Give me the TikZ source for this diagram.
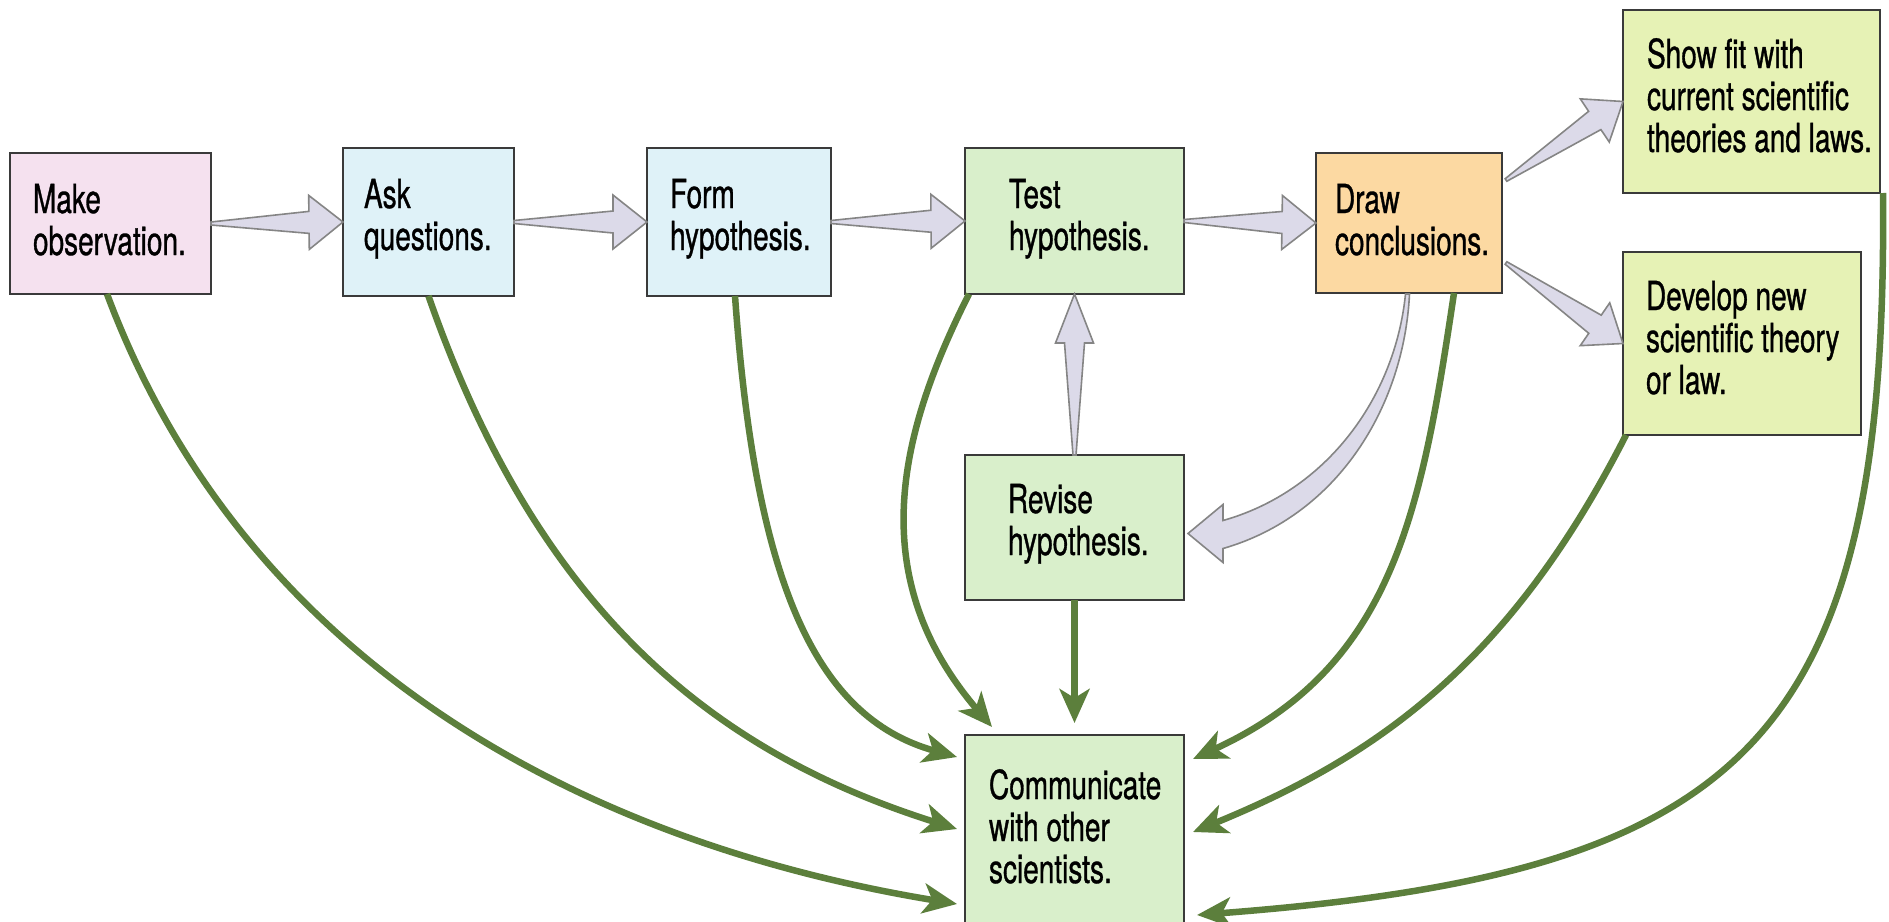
\documentclass[tikz,border=0pt]{standalone}
\usepackage{fontspec}
\setmainfont{TeX Gyre Heros}[FakeStretch=0.70,FakeBold=0.8]
\usetikzlibrary{arrows.meta,calc}
\definecolor{pinkc}{HTML}{F5E1EF}
\definecolor{cyanc}{HTML}{DFF2F8}
\definecolor{greenc}{HTML}{D9EFCB}
\definecolor{peachc}{HTML}{FCD9A2}
\definecolor{yellowc}{HTML}{E6F2B5}
\definecolor{boxline}{HTML}{3A3A3A}
\definecolor{arrowgreen}{HTML}{5C7F3C}
\definecolor{lav}{HTML}{DCDAE9}
\definecolor{lavline}{HTML}{858585}
\newcommand\twolines[2]{\vtop{\hbox{#1}\hbox{#2}}}
\newcommand\threelines[3]{\vtop{\hbox{#1}\hbox{#2}\hbox{#3}}}
\newcommand\harrow[5]{%
  \coordinate (hab) at ($(#2)!#3!(#1)$);
  \draw[hollow] ($(#1)!1.5pt!90:(#2)$) -- ($(hab)!#5!90:(#2)$) -- ($(hab)!#4!90:(#2)$) -- (#2) -- ($(hab)!#4!-90:(#2)$) -- ($(hab)!#5!-90:(#2)$) -- ($(#1)!1.5pt!-90:(#2)$) -- cycle;}
\tikzset{
  box/.style={draw=boxline, line width=2pt, rectangle, inner sep=0pt, outer sep=0pt},
  txt/.style={anchor=base west, inner sep=0pt, outer sep=0pt, font=\fontsize{40}{42}\selectfont},
  comm/.style={draw=arrowgreen, line width=6.5pt, -{Stealth[length=34pt,width=30pt,inset=9pt]}},
  hollow/.style={fill=lav, draw=lavline, line width=1.6pt, line join=miter}
}
\begin{document}
\begin{tikzpicture}[x=1pt,y=-1pt]
\fill[white] (0,0) rectangle (1889,921);
\useasboundingbox (0,0) rectangle (1889,921);

% boxes
\node[box, fill=pinkc, minimum width=201pt, minimum height=141pt] (mo) at (110.5,223.5) {};
\node[box, fill=cyanc, minimum width=171pt, minimum height=148pt] (aq) at (428.5,222) {};
\node[box, fill=cyanc, minimum width=184pt, minimum height=148pt] (fh) at (739,222) {};
\node[box, fill=greenc, minimum width=219pt, minimum height=146pt] (th) at (1074.5,221) {};
\node[box, fill=peachc, minimum width=186pt, minimum height=140pt] (dc) at (1409,223) {};
\node[box, fill=yellowc, minimum width=257pt, minimum height=183pt] (sf) at (1751.5,101.5) {};
\node[box, fill=yellowc, minimum width=238pt, minimum height=183pt] (dn) at (1742,343.5) {};
\node[box, fill=greenc, minimum width=219pt, minimum height=145pt] (rh) at (1074.5,527.5) {};
\node[box, fill=greenc, minimum width=219pt, minimum height=205pt] (cm) at (1074.5,837.5) {};

% texts
\node[txt] (tmo) at ($(mo.north west)+(23,60)$) {\twolines{Make}{observation.}};
\node[txt] (taq) at ($(aq.north west)+(21,60)$) {\twolines{Ask}{questions.}};
\node[txt] (tfh) at ($(fh.north west)+(23,60)$) {\twolines{Form}{hypothesis.}};
\node[txt] (tth) at ($(th.north west)+(44,60)$) {\twolines{Test}{hypothesis.}};
\node[txt] (tdc) at ($(dc.north west)+(19,60)$) {\twolines{Draw}{conclusions.}};
\node[txt] (tsf) at ($(sf.north west)+(24,58)$) {\threelines{Show fit with}{current scientific}{theories and laws.}};
\node[txt] (tdn) at ($(dn.north west)+(23,58)$) {\threelines{Develop new}{scientific theory}{or law.}};
\node[txt] (trh) at ($(rh.north west)+(43,58)$) {\twolines{Revise}{hypothesis.}};
\node[txt] (tcm) at ($(cm.north west)+(24,64)$) {\threelines{Communicate}{with other}{scientists.}};

% hollow arrows
\harrow{mo.east}{aq.west}{34pt}{27pt}{11pt}
\harrow{aq.east}{fh.west}{34pt}{27pt}{11pt}
\harrow{fh.east}{th.west}{34pt}{27pt}{11pt}
\harrow{th.east}{dc.west}{34pt}{27pt}{11pt}
\coordinate (d1) at ($(dc.north east)+(4,27)$);
\coordinate (d2) at ($(dc.south east)+(4,-30)$);
\harrow{d1}{sf.west}{34pt}{26pt}{11pt}
\harrow{d2}{dn.west}{34pt}{26pt}{11pt}
\harrow{rh.north}{th.south}{49pt}{19pt}{10pt}

% curved hollow arrow: Draw conclusions -> Revise hypothesis
\coordinate (cs) at ($(dc.south)+(-1,1)$);
\coordinate (ct) at ($(rh.east)+(4,6)$);
\draw[hollow] ($(cs)+(1.5,0)$) .. controls ($(cs)+(-4,112)$) and ($(ct)+(150,-18)$) .. ($(ct)+(35,15)$)
  -- ($(ct)+(35,29)$) -- (ct) -- ($(ct)+(35,-29)$) -- ($(ct)+(35,-13)$)
  .. controls ($(ct)+(138,-42)$) and ($(cs)+(-13,104)$) .. ($(cs)+(-2.5,0)$) -- cycle;

% green connectors to Communicate
\draw[comm] ($(mo.south west)+(97,0)$) .. controls (240,650) and (563,839) .. ($(cm.north west)+(-8,169)$);
\draw[comm] (aq.south) .. controls (540,617) and (719,754) .. ($(cm.north west)+(-8,94)$);
\draw[comm] ($(fh.south)+(-4,0)$) .. controls (755,577) and (813,717) .. ($(cm.north west)+(-8,22)$);
\draw[comm] ($(th.south west)+(4,0)$) .. controls (900,431) and (862,575) .. ($(cm.north west)+(27,-8)$);
\draw[comm] (rh.south) -- ($(cm.north)+(0,-12)$);
\draw[comm] ($(dc.south east)+(-48,0)$) .. controls (1421,514) and (1393,667) .. ($(cm.north east)+(9,24)$);
\draw[comm] ($(dn.south west)+(3,0)$) .. controls (1511,661) and (1379,756) .. ($(cm.north east)+(9,97)$);
\draw[comm] ($(sf.south east)+(3,0)$) .. controls (1888,742) and (1747,873) .. ($(cm.north east)+(13,180)$);
\end{tikzpicture}
\end{document}
